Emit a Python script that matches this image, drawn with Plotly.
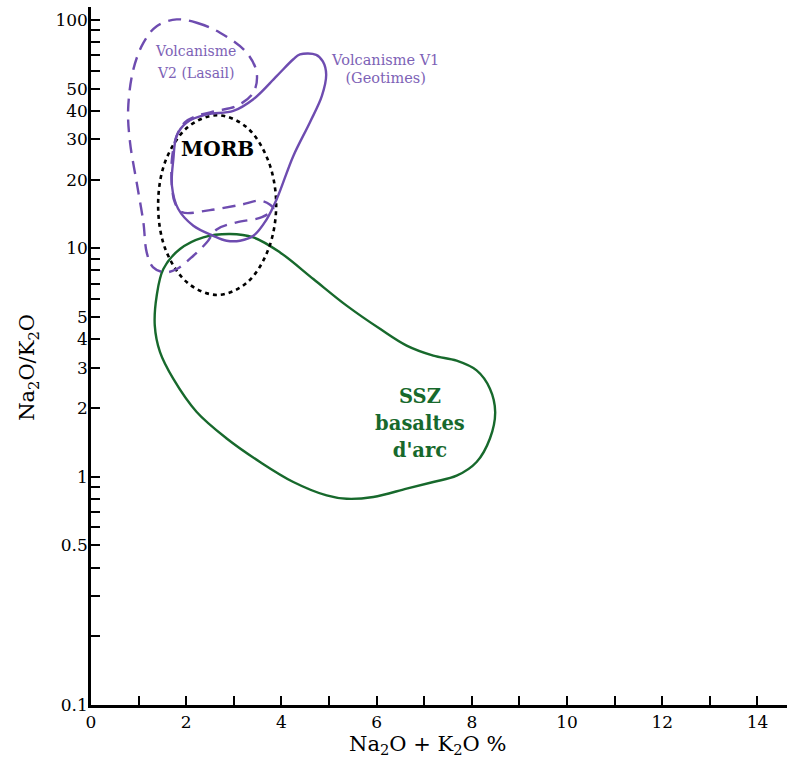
import plotly.graph_objects as go

# ---- data ----
v1_x = [4.39, 4.73, 4.87, 4.94, 4.85, 4.60, 4.25, 3.90, 3.69, 3.41, 3.13, 2.85, 2.57, 2.15, 1.83, 1.70, 1.73, 1.80, 2.01, 2.43, 2.99, 3.41, 3.90, 4.25, 4.39]
v1_y = [70.7, 70.4, 65.9, 57.8, 46.5, 35.7, 25.4, 16.4, 13.4, 11.35, 10.8, 10.8, 11.35, 12.56, 14.9, 18.8, 24.6, 31.1, 35.6, 38.6, 40.0, 45.0, 56.8, 67.3, 70.7]

v2_x = [1.80, 2.22, 2.71, 3.27, 3.48, 3.41, 3.06, 2.64, 2.22, 1.97, 1.80, 1.70, 1.70, 1.76, 1.91, 2.50, 3.13, 3.59, 3.83, 3.59, 3.06, 2.64, 2.43, 2.15, 1.80, 1.55, 1.30, 1.17, 1.10, 0.96, 0.82, 0.78, 0.89, 1.10, 1.38, 1.80]
v2_y = [100.6, 97.3, 88.0, 71.9, 58.8, 48.1, 42.0, 40.0, 38.0, 35.6, 31.1, 24.6, 18.8, 15.9, 14.4, 14.7, 15.5, 16.15, 14.9, 13.7, 13.0, 12.1, 10.6, 9.28, 8.12, 7.85, 8.28, 9.6, 13.0, 19.4, 29.1, 40.6, 60.8, 79.4, 94.0, 100.6]

morb_x = [3.89, 3.72, 3.27, 2.65, 2.03, 1.57, 1.41, 1.57, 2.03, 2.65, 3.27, 3.72, 3.89]
morb_y = [15.5, 24.3, 33.9, 38.3, 33.9, 24.3, 15.5, 9.83, 7.06, 6.25, 7.06, 9.83, 15.5]

ssz_x = [2.92, 3.41, 3.97, 4.67, 5.37, 6.07, 6.63, 7.19, 7.68, 8.10, 8.38, 8.49, 8.38, 8.10, 7.68, 7.19, 6.63, 5.93, 5.37, 4.95, 4.25, 3.55, 2.85, 2.22, 1.73, 1.45, 1.34, 1.38, 1.52, 1.87, 2.36, 2.92]
ssz_y = [11.55, 11.17, 9.6, 7.34, 5.61, 4.44, 3.75, 3.39, 3.22, 2.92, 2.43, 1.92, 1.47, 1.16, 1.01, 0.948, 0.886, 0.815, 0.80, 0.828, 0.948, 1.16, 1.47, 1.92, 2.68, 3.51, 4.59, 6.2, 8.12, 9.93, 11.17, 11.55]

y_labelvals = [0.1, 0.5, 1, 2, 3, 4, 5, 10, 20, 30, 40, 50, 100]
y_labeltext = ["0.1", "0.5", "1", "2", "3", "4", "5", "10", "20", "30", "40", "50", "100"]
y_minorvals = [0.2, 0.3, 0.4, 0.6, 0.7, 0.8, 0.9, 6, 7, 8, 9, 60, 70, 80, 90]
x_labelvals = [0, 2, 4, 6, 8, 10, 12, 14]
x_labeltext = ["0", "2", "4", "6", "8", "10", "12", "14"]
x_minorvals = [1, 3, 5, 7, 9, 11, 13]

v2_label = ["Volcanisme", "V2 (Lasail)"]
v2_label_x = [2.21, 2.21]
v2_label_y = [72.0, 57.5]
v1_label = ["Volcanisme V1", "(Geotimes)"]
v1_label_x = [6.19, 6.19]
v1_label_y = [66.0, 54.8]
morb_label, morb_label_x, morb_label_y = ["MORB"], [2.66], [26.7]
ssz_label = ["SSZ", "basaltes", "d'arc"]
ssz_label_x = [6.91, 6.91, 6.91]
ssz_label_y = [2.2, 1.68, 1.28]

PURPLE = "#6e4cb0"
PURPLE_TXT = "#7d62b6"
GREEN = "#17692c"
FONT = "DejaVu Serif"

fig = go.Figure()
fig.add_trace(go.Scatter(x=ssz_x, y=ssz_y, mode="lines", line=dict(color=GREEN, width=2.4, shape="spline"), hoverinfo="skip"))
fig.add_trace(go.Scatter(x=morb_x, y=morb_y, mode="lines", line=dict(color="black", width=2.6, shape="spline", dash="4px,4px"), hoverinfo="skip"))
fig.add_trace(go.Scatter(x=v2_x, y=v2_y, mode="lines", line=dict(color=PURPLE, width=2.4, shape="spline", dash="13px,8px"), hoverinfo="skip"))
fig.add_trace(go.Scatter(x=v1_x, y=v1_y, mode="lines", line=dict(color=PURPLE, width=2.4, shape="spline"), hoverinfo="skip"))

fig.add_trace(go.Scatter(x=v2_label_x, y=v2_label_y, mode="text", text=v2_label,
                         textfont=dict(family=FONT, size=14, color=PURPLE_TXT), hoverinfo="skip"))
fig.add_trace(go.Scatter(x=v1_label_x, y=v1_label_y, mode="text", text=v1_label,
                         textfont=dict(family=FONT, size=14.5, color=PURPLE_TXT), hoverinfo="skip"))
fig.add_trace(go.Scatter(x=morb_label_x, y=morb_label_y, mode="text", text=["<b>%s</b>" % t for t in morb_label],
                         textfont=dict(family=FONT, size=20, color="black"), hoverinfo="skip"))
fig.add_trace(go.Scatter(x=ssz_label_x, y=ssz_label_y, mode="text", text=["<b>%s</b>" % t for t in ssz_label],
                         textfont=dict(family=FONT, size=19.5, color=GREEN), hoverinfo="skip"))

axis_common = dict(ticks="inside", ticklen=9, tickwidth=2, tickcolor="black",
                   showline=True, linecolor="black", linewidth=2.5,
                   showgrid=False, zeroline=False, automargin=False,
                   tickfont=dict(family=FONT, size=17, color="black"))

fig.update_layout(
    width=787, height=764,
    margin=dict(l=91, r=0, t=7, b=59),
    paper_bgcolor="white", plot_bgcolor="white",
    showlegend=False,
    font=dict(family=FONT, color="black"),
    xaxis=dict(range=[0, 14.62], tickmode="array", tickvals=x_labelvals, ticktext=x_labeltext,
               minor=dict(tickmode="array", tickvals=x_minorvals, ticks="inside", ticklen=9,
                          tickwidth=2, tickcolor="black", showgrid=False),
               **axis_common),
    yaxis=dict(type="log", range=[-1, 2.057], tickmode="array", tickvals=y_labelvals, ticktext=y_labeltext,
               ticklabelstandoff=-3,
               minor=dict(tickmode="array", tickvals=y_minorvals, ticks="inside", ticklen=9,
                          tickwidth=2, tickcolor="black", showgrid=False),
               **axis_common),
    annotations=[
        dict(text="Na<sub>2</sub>O + K<sub>2</sub>O %", xref="paper", yref="paper", x=0.483, y=0,
             xanchor="center", yanchor="middle", yshift=-40, showarrow=False,
             font=dict(family=FONT, size=21, color="black")),
        dict(text="Na<sub>2</sub>O/K<sub>2</sub>O", xref="paper", yref="paper", x=0, y=0.483,
             xanchor="center", yanchor="middle", xshift=-63, textangle=-90, showarrow=False,
             font=dict(family=FONT, size=21, color="black")),
    ],
)

fig.write_html("out.html", config={"displayModeBar": False},
               post_script="document.body.style.margin='0';document.body.style.padding='0';")
